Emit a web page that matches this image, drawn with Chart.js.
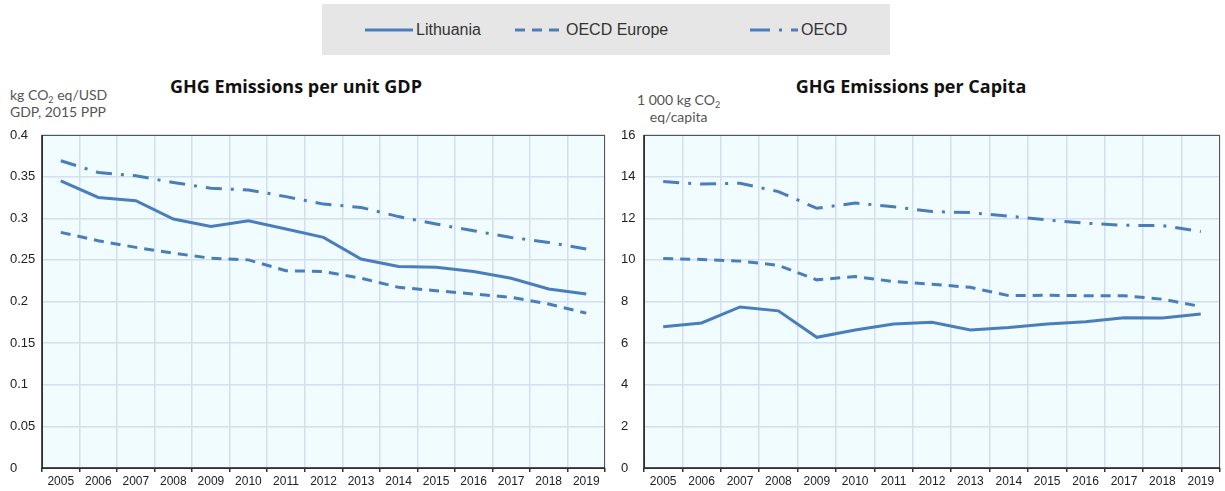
<!DOCTYPE html>
<html>
<head>
<meta charset="utf-8">
<script src="https://cdn.jsdelivr.net/npm/chart.js@4"></script>
<style>
  body { margin: 0; background: #fff; width: 1225px; height: 491px; position: relative; overflow: hidden; font-family: "Liberation Sans", Arial, sans-serif; }
  .box { position: absolute; }
  #legend { left: 322px; top: 4px; width: 568px; height: 51px; background: #e6e6e6; }
  .item { position: absolute; top: 0; height: 51px; display: flex; align-items: center; font-size: 16px; color: #333; }
  .item canvas { margin-right: 3px; }
  .title { position: absolute; font-family: "Open Sans", Lato, sans-serif; font-weight: bold; font-size: 18px; color: #111; transform: translateX(-50%); white-space: nowrap; }
  .unit { position: absolute; font-family: Lato, "Noto Sans", sans-serif; font-size: 14px; color: #555; line-height: 17px; white-space: nowrap; }
  .unit sub { font-size: 9px; vertical-align: baseline; position: relative; top: 3px; line-height: 0; }
</style>
</head>
<body>
<div id="legend" class="box"></div>
<div class="title" style="left:296px; top:74px;">GHG Emissions per unit GDP</div>
<div class="title" style="left:911px; top:74px;">GHG Emissions per Capita</div>
<div class="unit" style="left:10px; top:86px;">kg CO<sub>2</sub> eq/USD<br>GDP, 2015 PPP</div>
<div class="unit" style="left:637px; top:91px; text-align:center;">1 000 kg CO<sub>2</sub><br>eq/capita</div>
<div class="box" style="left:0; top:0; width:612px; height:491px;"><canvas id="gdp"></canvas></div>
<div class="box" style="left:612px; top:0; width:613px; height:491px;"><canvas id="capita"></canvas></div>
<script>
const years = ["2005", "2006", "2007", "2008", "2009", "2010", "2011", "2012", "2013", "2014", "2015", "2016", "2017", "2018", "2019"];

const gdpLithuania = [0.345, 0.325, 0.321, 0.299, 0.290, 0.297, 0.287, 0.277, 0.251, 0.242, 0.241, 0.236, 0.228, 0.215, 0.209];
const gdpOecdEurope = [0.283, 0.273, 0.265, 0.258, 0.252, 0.250, 0.237, 0.236, 0.228, 0.217, 0.213, 0.209, 0.205, 0.197, 0.186];
const gdpOecd = [0.369, 0.355, 0.351, 0.343, 0.336, 0.334, 0.326, 0.317, 0.313, 0.302, 0.293, 0.285, 0.277, 0.271, 0.263];

const capLithuania = [6.79, 6.97, 7.74, 7.55, 6.28, 6.63, 6.92, 7.0, 6.63, 6.75, 6.92, 7.03, 7.22, 7.21, 7.40];
const capOecdEurope = [10.07, 10.02, 9.94, 9.74, 9.04, 9.20, 8.96, 8.83, 8.68, 8.28, 8.30, 8.28, 8.28, 8.11, 7.76];
const capOecd = [13.76, 13.64, 13.68, 13.28, 12.48, 12.73, 12.55, 12.32, 12.27, 12.10, 11.92, 11.76, 11.66, 11.65, 11.36];

const gdpTicks = { min: 0, max: 0.4, step: 0.05 };
const capTicks = { min: 0, max: 16, step: 2 };

const seriesNames = ["Lithuania", "OECD Europe", "OECD"];
const blue = "#4a7ebb";
const dashes = [[], [10, 7], [16, 9, 3, 9]];

const plotBox = {
  id: "plotBox",
  beforeDraw(chart) {
    const a = chart.chartArea, c = chart.ctx;
    c.save();
    c.fillStyle = "#f0fcff";
    c.fillRect(a.left, a.top, a.right - a.left, a.bottom - a.top);
    c.restore();
  },
  afterDatasetsDraw(chart) {
    const a = chart.chartArea, c = chart.ctx;
    c.save();
    c.strokeStyle = "#555";
    c.lineWidth = 1;
    c.strokeRect(a.left + 0.5, a.top + 0.5, a.right - a.left - 1, a.bottom - a.top);
    c.strokeStyle = "#222";
    c.lineWidth = 1.5;
    c.beginPath();
    c.moveTo(a.left, a.top);
    c.lineTo(a.left, a.bottom);
    c.lineTo(a.right, a.bottom);
    c.stroke();
    c.restore();
  }
};

function makeChart(id, values, ticks, yWidth, pad, decimals) {
  new Chart(document.getElementById(id), {
    type: "line",
    data: {
      labels: years,
      datasets: values.map((v, i) => ({
        label: seriesNames[i],
        data: v,
        borderColor: blue,
        borderWidth: 3,
        borderDash: dashes[i],
        pointRadius: 0,
        tension: 0,
        fill: false,
      })),
    },
    options: {
      responsive: true,
      maintainAspectRatio: false,
      animation: false,
      layout: { padding: pad },
      plugins: { legend: { display: false }, tooltip: { enabled: false } },
      scales: {
        x: {
          offset: true,
          grid: { offset: true, color: "#d3dfee", lineWidth: 1.5, drawTicks: true, tickLength: 4, tickColor: "#333" },
          border: { display: false },
          ticks: { color: "#222", font: { family: "Liberation Sans", size: 12 }, padding: 2, maxRotation: 0, autoSkip: false },
          afterFit(s) { s.height = 23; },
        },
        y: {
          min: ticks.min,
          max: ticks.max,
          grid: { color: "#d3dfee", lineWidth: 1.5, drawTicks: false },
          border: { display: false },
          ticks: {
            stepSize: ticks.step,
            color: "#222",
            crossAlign: "far",
            padding: 0,
            font: { family: "Liberation Sans", size: 13 },
            callback: (v) => decimals ? String(+v.toFixed(2)) : String(v),
          },
          afterFit(s) { s.width = yWidth; },
        },
      },
    },
    plugins: [plotBox],
  });
}

makeChart("gdp", [gdpLithuania, gdpOecdEurope, gdpOecd], gdpTicks, 32, { left: 10, right: 7, top: 135, bottom: 0 }, true);
makeChart("capita", [capLithuania, capOecdEurope, capOecd], capTicks, 23, { left: 9, right: 5, top: 135, bottom: 0 }, false);

// legend
const legend = document.getElementById("legend");
const legendPos = [43, 193, 428];
seriesNames.forEach((name, i) => {
  const item = document.createElement("div");
  item.className = "item";
  item.style.left = legendPos[i] + "px";
  const cv = document.createElement("canvas");
  cv.width = 48;
  cv.height = 10;
  const c = cv.getContext("2d");
  c.strokeStyle = blue;
  c.lineWidth = 3;
  c.setLineDash(i === 1 ? [10, 7] : i === 2 ? [20, 9, 3, 9] : []);
  c.beginPath();
  c.moveTo(0, 5);
  c.lineTo(48, 5);
  c.stroke();
  item.appendChild(cv);
  const t = document.createElement("span");
  t.textContent = name;
  item.appendChild(t);
  legend.appendChild(item);
});
</script>
</body>
</html>
